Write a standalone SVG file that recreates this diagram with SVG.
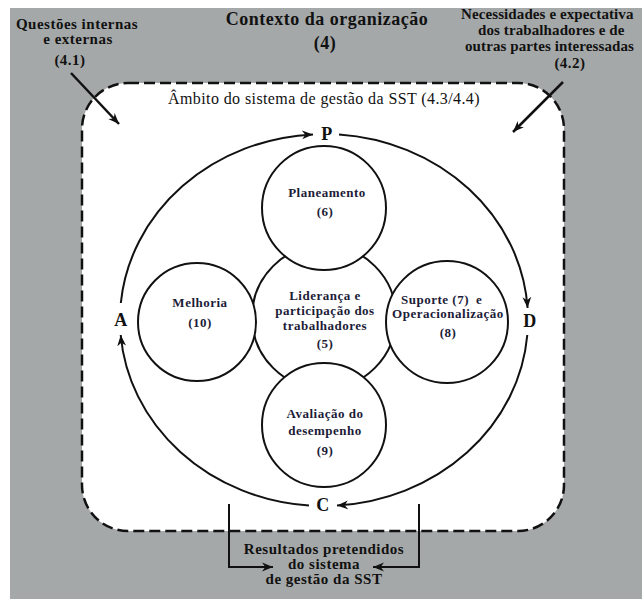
<svg xmlns="http://www.w3.org/2000/svg" width="642" height="599" viewBox="0 0 642 599">
<style>
.t{font-family:"Liberation Serif","Times New Roman",serif;font-weight:bold;fill:#111;letter-spacing:0.5px}
.o{font-size:15px}
.i{font-size:13px;fill:#1c1c38}
.l{font-size:18px}
.c{stroke:#111;stroke-width:2;fill:#fff}
.a{stroke:#111;stroke-width:2;fill:none;marker-end:url(#ah)}
.s{stroke:#111;stroke-width:2.5;fill:none;marker-end:url(#ah)}
</style>
<defs>
<marker id="ah" viewBox="0 0 10 10" refX="10" refY="5" markerWidth="11" markerHeight="11" markerUnits="userSpaceOnUse" orient="auto">
<path d="M0,1 L10,5 L0,9 L3,5 z" fill="#111"/>
</marker>
</defs>
<rect x="0" y="0" width="642" height="599" fill="#fff"/>
<rect id="context" x="10" y="8" width="632" height="591" fill="#a5a8a8"/>
<rect id="scope" x="82" y="83" width="482" height="448" rx="46" ry="46" fill="#fff" stroke="#111" stroke-width="2.5" stroke-dasharray="11,5"/>

<g id="labels-outer">
<text class="t o" text-anchor="middle"><tspan x="77" y="29">Questões internas</tspan><tspan x="78" y="44">e externas</tspan><tspan x="70" y="65">(4.1)</tspan></text>
<text class="t" style="font-size:18px" text-anchor="middle"><tspan x="327" y="25">Contexto da organização</tspan><tspan x="325" y="49">(4)</tspan></text>
<text class="t o" style="letter-spacing:0.1px"><tspan x="461" y="19">Necessidades e expectativa</tspan><tspan x="478" y="35">dos trabalhadores e de</tspan><tspan x="465" y="51">outras partes interessadas</tspan></text>
<text class="t o" text-anchor="middle" x="570" y="68">(4.2)</text>
<text class="t" style="font-size:16px;font-weight:normal;letter-spacing:0.4px" text-anchor="middle" x="324" y="104">Âmbito do sistema de gestão da SST (4.3/4.4)</text>
<text class="t o" text-anchor="middle"><tspan x="324" y="554">Resultados pretendidos</tspan><tspan x="324" y="569">do sistema</tspan><tspan x="324" y="584">de gestão da SST</tspan></text>
</g>

<g id="node-lideranca">
<circle class="c" cx="324" cy="317" r="72"/>
<text class="t i" text-anchor="middle"><tspan x="325" y="300">Liderança e</tspan><tspan x="325" y="315">participação dos</tspan><tspan x="325" y="330">trabalhadores</tspan><tspan x="325" y="348">(5)</tspan></text>
</g>
<g id="node-planeamento">
<circle class="c" cx="324" cy="208" r="62"/>
<text class="t i" text-anchor="middle"><tspan x="327" y="197">Planeamento</tspan><tspan x="325" y="216">(6)</tspan></text>
</g>
<g id="node-melhoria">
<circle class="c" cx="197" cy="322" r="59"/>
<text class="t i" text-anchor="middle"><tspan x="200" y="307">Melhoria</tspan><tspan x="200" y="327">(10)</tspan></text>
</g>
<g id="node-suporte">
<circle class="c" cx="447" cy="322" r="61"/>
<text class="t i"><tspan x="401" y="304">Suporte (7)</tspan><tspan x="476" y="304">e</tspan></text>
<text class="t i" text-anchor="middle"><tspan x="448" y="318">Operacionalização</tspan><tspan x="448" y="337">(8)</tspan></text>
</g>
<g id="node-avaliacao">
<circle class="c" cx="324" cy="425" r="62"/>
<text class="t i" text-anchor="middle"><tspan x="325" y="418">Avaliação do</tspan><tspan x="325" y="435">desempenho</tspan><tspan x="325" y="455">(9)</tspan></text>
</g>

<g id="pdca-labels">
<text class="t l" text-anchor="middle" x="327" y="140">P</text>
<text class="t l" text-anchor="middle" x="530" y="327">D</text>
<text class="t l" text-anchor="middle" x="323" y="511">C</text>
<text class="t l" text-anchor="middle" x="121" y="326">A</text>
</g>

<g id="connectors">
<path class="a" d="M120.8,303 A204,186 0 0 1 313,134.4"/>
<path class="a" d="M339,134.4 A204,186 0 0 1 527.6,308"/>
<path class="a" d="M527.3,335 A204,186 0 0 1 337,505.6"/>
<path class="a" d="M309,505.5 A204,186 0 0 1 120.7,335"/>
<line class="s" x1="71" y1="73" x2="119" y2="124"/>
<line class="s" x1="563" y1="82" x2="513" y2="132"/>
<path class="a" d="M229,504 V567 H273"/>
<path class="a" d="M419,504 V567 H373"/>
</g>
</svg>
